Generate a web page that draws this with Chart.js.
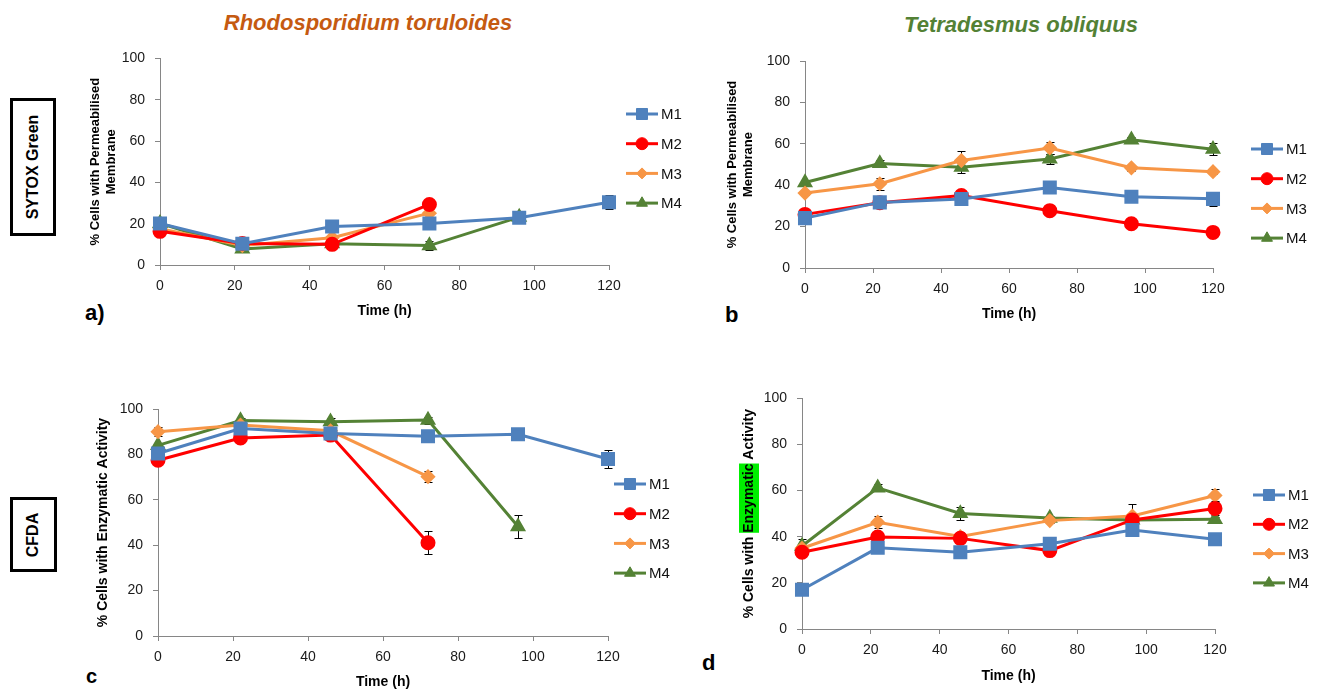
<!DOCTYPE html>
<html>
<head>
<meta charset="utf-8">
<title>Membrane permeability and enzymatic activity</title>
<script src="https://cdn.jsdelivr.net/npm/chart.js@4.4.0/dist/chart.umd.min.js"></script>
<style>
  body { margin: 0; background: #fff; font-family: "Liberation Sans", Arial, sans-serif; }
  #page { position: relative; width: 1322px; height: 691px; overflow: hidden; background: #fff; }
  canvas { position: absolute; }
  .species { position: absolute; width: 420px; text-align: center; font-size: 22px; font-weight: bold; font-style: italic; line-height: 26px; }
  .stain { position: absolute; box-sizing: border-box; border: 3px solid #000; display: flex; align-items: center; justify-content: center; }
  .stain span { transform: rotate(-90deg); white-space: nowrap; font-weight: bold; font-size: 16px; }
  .letter { position: absolute; font-weight: bold; font-size: 22px; line-height: 24px; }
</style>
</head>
<body>
<div id="page">
  <div class="species" style="left:158px;top:10px;color:#c55a11">Rhodosporidium toruloides</div>
  <div class="species" style="left:811px;top:12px;color:#538135">Tetradesmus obliquus</div>

  <div class="stain" style="left:10px;top:98px;width:46px;height:138px"><span>SYTOX Green</span></div>
  <div class="stain" style="left:10px;top:497px;width:47px;height:75px"><span>CFDA</span></div>

  <div class="letter" style="left:85px;top:301px">a)</div>
  <div class="letter" style="left:725px;top:303px">b</div>
  <div class="letter" style="left:86px;top:664px;font-size:20px">c</div>
  <div class="letter" style="left:702px;top:651px">d</div>

  <canvas id="chartA" width="640" height="290" style="left:60px;top:40px"></canvas>
  <canvas id="chartB" width="622" height="290" style="left:700px;top:40px"></canvas>
  <canvas id="chartC" width="640" height="301" style="left:60px;top:390px"></canvas>
  <canvas id="chartD" width="622" height="311" style="left:700px;top:380px"></canvas>
</div>
<script>
// sampling times (h) and series
const hours = [0, 22, 46, 72, 96, 120];
const seriesNames = ['M1', 'M2', 'M3', 'M4'];
const timeTicks = [0, 20, 40, 60, 80, 100, 120];
const percentTicks = [0, 20, 40, 60, 80, 100];

// a) R. toruloides, SYTOX Green
const rtSytox = [
  [20.1, 10.3, 18.6, 20.1, 22.9, 30.4],
  [16.3, 10.4, 10.0, 29.3],
  [17.6, 9.4, 13.2, 25.1],
  [20.2, 7.8, 10.3, 9.4, 23.2]
];
const rtSytoxErr = [
  [0.5, 0.5, 1, 1, 0.5, 3.5],
  [0.5, 0.5, 1.5, 0.5],
  [0.5, 0.5, 1.5, 0.5],
  [0.5, 0.5, 0.5, 2, 0.5]
];

// b) T. obliquus, SYTOX Green
const toSytox = [
  [24.1, 31.7, 33.3, 38.9, 34.4, 33.4],
  [25.9, 31.5, 35.0, 27.7, 21.4, 17.2],
  [36.2, 40.7, 51.9, 58.0, 48.4, 46.5],
  [41.3, 50.5, 48.7, 52.7, 61.9, 57.4]
];
const toSytoxErr = [
  [1, 1, 1, 1, 1, 3.5],
  [0.5, 0.5, 0.5, 0.5, 0.5, 0.5],
  [1, 3, 4.5, 3, 1.5, 1],
  [1, 1.5, 3, 2.5, 1.5, 3]
];

// c) R. toruloides, CFDA
const rtCfda = [
  [80.4, 91.4, 89.2, 88.0, 88.9, 78.0],
  [77.4, 87.2, 88.5, 41.1],
  [90.0, 92.9, 90.4, 70.2],
  [84.0, 94.9, 94.4, 95.1, 48.2]
];
const rtCfdaErr = [
  [2, 1, 1, 1, 1, 4],
  [1, 1, 1, 5],
  [2, 1, 1, 2.5],
  [1, 1, 1.5, 1.5, 5]
];

// d) T. obliquus, CFDA
const toCfda = [
  [17.0, 35.2, 33.3, 37.0, 42.9, 38.9],
  [33.3, 39.9, 39.3, 34.0, 47.3, 52.3],
  [35.0, 46.3, 40.1, 47.0, 49.0, 57.9],
  [36.0, 61.2, 50.1, 48.1, 47.3, 47.6]
];
const toCfdaErr = [
  [1, 1, 1, 1, 2, 1.5],
  [1, 1, 1, 1, 1, 3],
  [1, 2.5, 2, 1, 5, 3],
  [3, 1.5, 3, 1, 1, 1]
];

const colors = ['#4f81bd', '#ff0000', '#f79646', '#548235'];
const markers = ['rect', 'circle', 'rectRot', 'triangle'];
const markerSize = [7.8, 6, 5.5, 6.3];
const family = '"Liberation Sans", Arial, sans-serif';

// black error bars with caps, drawn under the markers like Excel does
const errorBars = {
  id: 'errorBars',
  beforeDatasetsDraw(chart) {
    const ctx = chart.ctx, ys = chart.scales.y;
    ctx.save();
    ctx.strokeStyle = '#000';
    ctx.lineWidth = 1;
    chart.data.datasets.forEach((ds, i) => {
      const meta = chart.getDatasetMeta(i);
      meta.data.forEach((pt, j) => {
        const e = ds.errors[j];
        if (!e) return;
        const v = ds.data[j].y;
        const x = Math.round(pt.x) + 0.5;
        const t = Math.round(ys.getPixelForValue(v + e)) + 0.5;
        const b = Math.round(ys.getPixelForValue(v - e)) + 0.5;
        ctx.beginPath();
        ctx.moveTo(x, t); ctx.lineTo(x, b);
        ctx.moveTo(x - 4, t); ctx.lineTo(x + 4, t);
        ctx.moveTo(x - 4, b); ctx.lineTo(x + 4, b);
        ctx.stroke();
      });
    });
    ctx.restore();
  }
};

// excel style legend: line + marker + name
const sideLegend = {
  id: 'sideLegend',
  afterDraw(chart, args, opts) {
    const ctx = chart.ctx;
    chart.data.datasets.forEach((ds, i) => {
      const y = opts.top + i * opts.step;
      ctx.save();
      ctx.strokeStyle = ds.borderColor;
      ctx.lineWidth = ds.borderWidth;
      ctx.beginPath();
      ctx.moveTo(opts.x - 16, y);
      ctx.lineTo(opts.x + 16, y);
      ctx.stroke();
      ctx.fillStyle = ds.pointBackgroundColor;
      ctx.strokeStyle = ds.pointBorderColor;
      ctx.lineWidth = 1;
      Chart.helpers.drawPoint(ctx, {pointStyle: ds.pointStyle, radius: ds.pointRadius, rotation: 0, borderWidth: 1}, opts.x, y);
      ctx.fillStyle = '#111';
      ctx.font = '15px ' + family;
      ctx.textBaseline = 'middle';
      ctx.fillText(ds.label, opts.x + 19, y + 1);
      ctx.restore();
    });
  }
};

// green highlight behind one word of the y title
const highlightWord = {
  id: 'highlightWord',
  beforeDraw(chart, args, opts) {
    if (!opts.word) return;
    const ys = chart.scales.y, title = ys.options.title;
    const font = Chart.helpers.toFont(title.font);
    const ctx = chart.ctx;
    ctx.save();
    ctx.font = font.string;
    const full = title.text;
    const k = full.indexOf(opts.word);
    const W = ctx.measureText(full).width;
    const w1 = ctx.measureText(full.slice(0, k)).width;
    const w2 = ctx.measureText(opts.word).width;
    const cy = (chart.chartArea.top + chart.chartArea.bottom) / 2;
    const cx = ys.left + opts.pad + font.lineHeight / 2;
    ctx.fillStyle = opts.color;
    ctx.fillRect(cx - 10, cy + W / 2 - w1 - w2, 20, w2);
    ctx.restore();
  }
};

function makeChart(id, values, errors, lay) {
  const datasets = values.map((vals, i) => ({
    label: seriesNames[i],
    data: vals.map((v, j) => ({x: hours[j], y: v})),
    errors: errors[i],
    borderColor: colors[i],
    backgroundColor: colors[i],
    pointBackgroundColor: colors[i],
    pointBorderColor: colors[i],
    pointStyle: markers[i],
    pointRadius: markerSize[i],
    borderWidth: 3,
    tension: 0,
    clip: false
  }));
  return new Chart(document.getElementById(id), {
    type: 'line',
    data: {datasets: datasets},
    options: {
      responsive: false,
      animation: false,
      events: [],
      layout: {padding: {top: lay.top, right: lay.right, left: 0, bottom: 0}},
      scales: {
        x: {
          type: 'linear', min: 0, max: 120,
          afterBuildTicks: s => { s.ticks = timeTicks.map(v => ({value: v})); },
          afterFit: s => { s.height = lay.xh; },
          grid: {drawOnChartArea: false, tickLength: 5, color: '#868686'},
          border: {color: '#868686'},
          ticks: {font: {size: 14, family: family}, color: '#1a1a1a', padding: 8, maxRotation: 0},
          title: {display: true, text: 'Time (h)', color: '#000',
                  font: {size: 14, weight: 'bold', family: family, lineHeight: 1.2},
                  padding: {top: 0, bottom: lay.xpad}}
        },
        y: {
          type: 'linear', min: 0, max: 100,
          afterBuildTicks: s => { s.ticks = percentTicks.map(v => ({value: v})); },
          afterFit: s => { s.width = lay.left; },
          grid: {drawOnChartArea: false, tickLength: 5, color: '#868686'},
          border: {color: '#868686'},
          ticks: {font: {size: 14, family: family}, color: '#1a1a1a', padding: 10},
          title: {display: true, text: lay.ytitle, color: '#000',
                  font: {size: lay.yfont, weight: 'bold', family: family, lineHeight: lay.ylh},
                  padding: {top: lay.ypad, bottom: 0}}
        }
      },
      plugins: {
        legend: {display: false},
        tooltip: {enabled: false},
        sideLegend: lay.legend,
        highlightWord: {word: lay.mark, pad: lay.ypad, color: '#00ee00'}
      }
    },
    plugins: [errorBars, sideLegend, highlightWord]
  });
}

const membraneTitle = ['% Cells with Permeabilised', 'Membrane'];
const enzymeTitle = '% Cells with Enzymatic Activity';

makeChart('chartA', rtSytox, rtSytoxErr, {
  left: 100, right: 91, top: 14, xh: 65, xpad: 10.6,
  ytitle: membraneTitle, yfont: 13, ylh: 1.3, ypad: 26.5,
  legend: {x: 582, top: 74, step: 29.7}
});
makeChart('chartB', toSytox, toSytoxErr, {
  left: 105, right: 109, top: 21, xh: 62, xpad: 7.6,
  ytitle: membraneTitle, yfont: 13, ylh: 1.3, ypad: 23.5,
  legend: {x: 567, top: 109, step: 29.7}
});
makeChart('chartC', rtCfda, rtCfdaErr, {
  left: 98, right: 92, top: 19, xh: 55, xpad: 0.6,
  ytitle: enzymeTitle, yfont: 14, ylh: 1.2, ypad: 34.6,
  legend: {x: 570, top: 94, step: 29.7}
});
makeChart('chartD', toCfda, toCfdaErr, {
  left: 102, right: 107, top: 18, xh: 62, xpad: 6.6,
  ytitle: enzymeTitle, yfont: 14, ylh: 1.2, ypad: 40.6,
  legend: {x: 569, top: 115, step: 29.3},
  mark: 'Enzymatic'
});
</script>
</body>
</html>
